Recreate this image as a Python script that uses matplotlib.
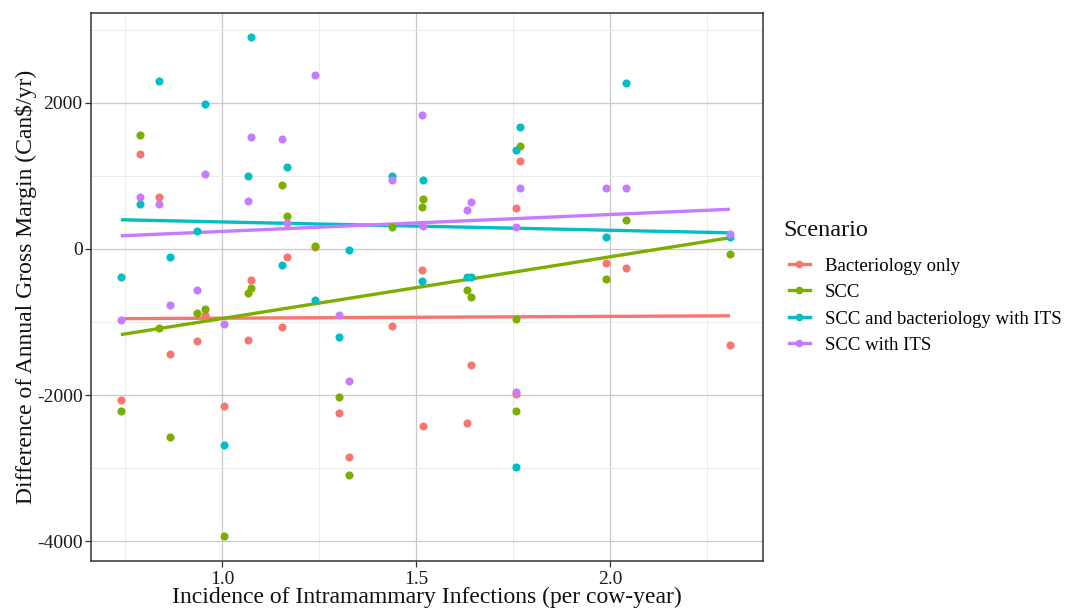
import matplotlib
matplotlib.use("Agg")
import matplotlib.pyplot as plt
from matplotlib.lines import Line2D
from matplotlib.ticker import MultipleLocator
import numpy as np

plt.rcParams['font.family'] = ['Liberation Serif', 'DejaVu Serif']
plt.rcParams['axes.unicode_minus'] = False

# incidence of IMI per farm (same for all scenarios)
incidence = [0.739, 0.789, 0.838, 0.866, 0.936, 0.955, 1.006, 1.066, 1.075,
             1.155, 1.168, 1.239, 1.302, 1.326, 1.439, 1.514, 1.519, 1.631,
             1.642, 1.758, 1.758, 1.767, 1.989, 2.042, 2.309]

bact_only = [-2068, 1297, 712, -1438, -1260, -909, -2146, -1251, -430,
             -1073, -110, 32, -2251, -2845, -1059, -292, -2429, -2388,
             -1594, 566, -1991, 1210, -196, -256, -1311]
scc = [-2219, 1561, -1082, -2580, -881, -817, -3932, -598, -541,
       877, 456, 45, -2027, -3096, 301, 575, 685, -566,
       -662, -963, -2219, 1415, -411, 397, -64]
scc_bact_its = [-388, 612, 2301, -110, 251, 1986, -2680, 1000, 2900,
                -219, 1119, -694, -1201, -10, 1004, -438, 950, -388,
                -388, 1356, -2986, 1676, 164, 2278, 164]
scc_its = [-977, 712, 621, -771, -565, 1032, -1023, 658, 1530,
           1511, 352, 2379, -909, -1813, 945, 1831, 310, 534,
           648, 306, -1963, 830, 840, 840, 205]

scenarios = ['Bacteriology only', 'SCC', 'SCC and bacteriology with ITS', 'SCC with ITS']
series = [bact_only, scc, scc_bact_its, scc_its]
colors = ['#F8766D', '#7CAE00', '#00BFC4', '#C77CFF']

fig = plt.figure(figsize=(10.65, 6.09), dpi=100)
ax = fig.add_axes([0.0854, 0.0788, 0.6310, 0.8999])

x = np.array(incidence)
for vals, c in zip(series, colors):
    y = np.array(vals)
    ax.scatter(x, y, s=34, color=c, linewidths=0, zorder=3)
    # linear fit like geom_smooth(method = "lm")
    b, a = np.polyfit(x, y, 1)
    xs = np.array([x.min(), x.max()])
    ax.plot(xs, a + b * xs, color=c, lw=2.4, zorder=2, solid_capstyle='butt')

ax.set_xlim(0.662, 2.394)
ax.set_ylim(-4274, 3233)
ax.set_xticks([1.0, 1.5, 2.0])
ax.set_xticklabels(['1.0', '1.5', '2.0'])
ax.set_yticks([-4000, -2000, 0, 2000])
ax.xaxis.set_minor_locator(MultipleLocator(0.25))
ax.yaxis.set_minor_locator(MultipleLocator(1000))

ax.grid(which='major', color='#c9c9c9', lw=0.9, zorder=0)
ax.grid(which='minor', color='#ebebeb', lw=0.7, zorder=0)
ax.set_axisbelow(True)
for sp in ax.spines.values():
    sp.set_color('#333333')
    sp.set_linewidth(1.1)
ax.tick_params(which='major', length=4, width=0.9, color='#333333',
               labelsize=14, labelcolor='#1a1a1a', pad=2)
ax.tick_params(axis='x', which='major', pad=3.5)
ax.tick_params(which='minor', length=0)

ax.set_xlabel('Incidence of Intramammary Infections (per cow-year)',
              fontsize=17, color='#111111', labelpad=-1)
ax.set_ylabel('Difference of Annual Gross Margin (Can$/yr)',
              fontsize=17, color='#111111', labelpad=0)

fig.text(783 / 1065, 1 - 230 / 609, 'Scenario', fontsize=17.5,
         ha='left', va='center', color='#111111')
handles = [Line2D([0], [0], color=c, lw=2.4, marker='o', markersize=5.5,
                  markeredgewidth=0) for c in colors]
leg = fig.legend(handles, scenarios, loc='upper left',
                 bbox_to_anchor=(0.725, 0.605), frameon=False,
                 fontsize=13.5, handlelength=1.1,
                 handletextpad=0.8, labelspacing=0.5)

fig.savefig('out.png', dpi=100)
